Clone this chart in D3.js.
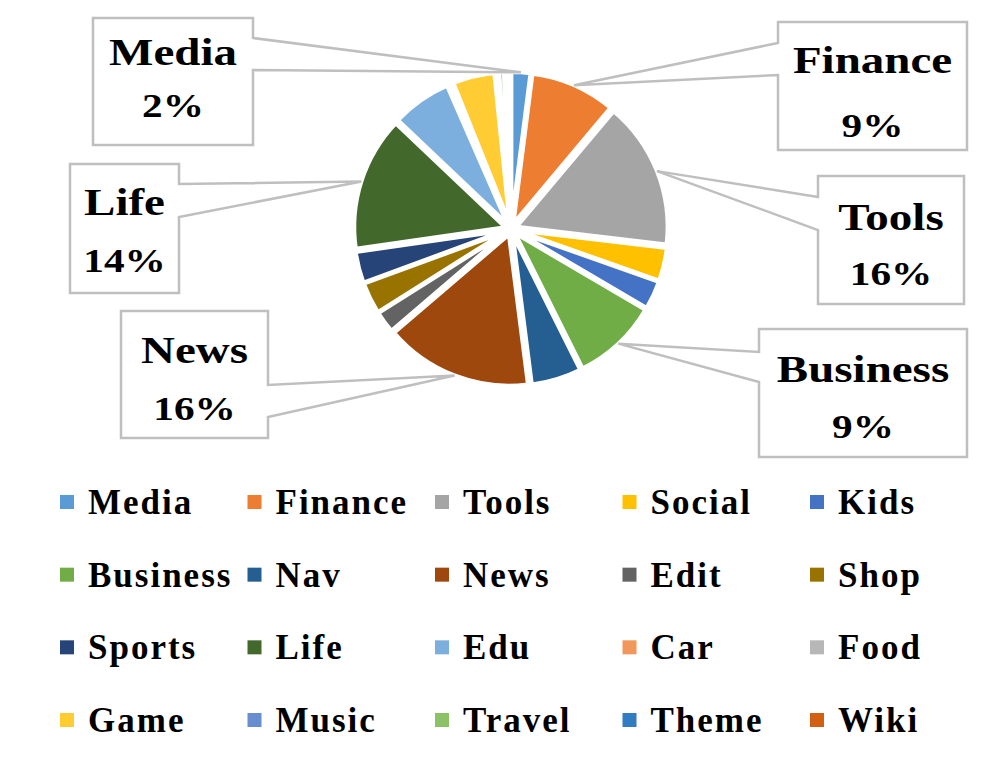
<!DOCTYPE html>
<html>
<head>
<meta charset="utf-8">
<script src="https://cdn.jsdelivr.net/npm/d3@7"></script>
<style>
  body { margin: 0; background: #fff; }
  text { font-family: "Liberation Serif", "Times New Roman", serif; font-weight: bold; fill: #000; }
</style>
</head>
<body>
<div id="chart"></div>
<script>
// categories and share of each (percent)
var categories = ["Media", "Finance", "Tools", "Social", "Kids",
                  "Business", "Nav", "News", "Edit", "Shop",
                  "Sports", "Life", "Edu", "Car", "Food",
                  "Game", "Music", "Travel", "Theme", "Wiki"];
var shares = [2.0, 9.0, 15.6, 3.5, 3.0,
              9.1, 5.3, 15.6, 2.3, 3.3,
              3.3, 14.2, 6.3, 0.3, 0.2,
              4.4, 0.4, 0.5, 0.4, 0.3];
var colors = ["#5B9BD5", "#ED7D31", "#A5A5A5", "#FFC000", "#4472C4",
              "#70AD47", "#255E91", "#9E480E", "#636363", "#997300",
              "#264478", "#43682B", "#7CAFDD", "#F1975A", "#B7B7B7",
              "#FFCD33", "#698ED0", "#8CC168", "#327DC2", "#D26012"];
// which slices get a callout
var labelled = ["Media", "Finance", "Tools", "Business", "Life", "News"];

var width = 997, height = 770;
var cx = 511, cy = 229, r = 151, explode = 6;

var svg = d3.select("#chart").append("svg")
  .attr("width", width)
  .attr("height", height);

var color = d3.scaleOrdinal().domain(categories).range(colors);
var total = d3.sum(shares);
var pct = d3.format(".0%");

var pie = d3.pie().sort(null).value(function(d){ return d.v; });
var arcs = pie(categories.map(function(c, i){ return {name: c, v: shares[i]}; }));
var arc = d3.arc().innerRadius(0).outerRadius(r);

function mid(a){ return (a.startAngle + a.endAngle) / 2; }

var g = svg.append("g").attr("transform", "translate(" + cx + "," + cy + ")");
g.selectAll("path").data(arcs).enter().append("path")
  .attr("d", arc)
  .attr("transform", function(d){
    var m = mid(d);
    return "translate(" + (Math.sin(m) * explode) + "," + (-Math.cos(m) * explode) + ")";
  })
  .attr("fill", function(d){ return color(d.data.name); })
  .attr("stroke", "#fff")
  .attr("stroke-width", 4)
  .attr("stroke-linejoin", "round");

// callout boxes (layout only)
var boxes = {
  Media:    {x: 93,  y: 18,  w: 160, h: 127, side: "right", n1: 20, n2: 52,  t1: 47, t2: 99},
  Finance:  {x: 778, y: 22,  w: 189, h: 128, side: "left",  n1: 21, n2: 53,  t1: 51, t2: 115},
  Tools:    {x: 818, y: 176, w: 146, h: 128, side: "left",  n1: 21, n2: 54,  t1: 54, t2: 109},
  Business: {x: 759, y: 329, w: 208, h: 128, side: "left",  n1: 23, n2: 53,  t1: 53, t2: 109},
  Life:     {x: 70,  y: 164, w: 109, h: 129, side: "right", n1: 20, n2: 53,  t1: 51, t2: 108},
  News:     {x: 121, y: 311, w: 147, h: 127, side: "right", n1: 74, n2: 106, t1: 52, t2: 109}
};

var tipR = r + explode;
arcs.filter(function(d){ return labelled.indexOf(d.data.name) >= 0; }).forEach(function(d){
  var b = boxes[d.data.name];
  var m = mid(d);
  var tx = cx + Math.sin(m) * tipR, ty = cy - Math.cos(m) * tipR;
  var p = d3.path();
  if (b.side === "left") {
    p.moveTo(b.x, b.y);
    p.lineTo(b.x + b.w, b.y);
    p.lineTo(b.x + b.w, b.y + b.h);
    p.lineTo(b.x, b.y + b.h);
    p.lineTo(b.x, b.y + b.n2);
    p.lineTo(tx, ty);
    p.lineTo(b.x, b.y + b.n1);
    p.closePath();
  } else {
    p.moveTo(b.x, b.y);
    p.lineTo(b.x + b.w, b.y);
    p.lineTo(b.x + b.w, b.y + b.n1);
    p.lineTo(tx, ty);
    p.lineTo(b.x + b.w, b.y + b.n2);
    p.lineTo(b.x + b.w, b.y + b.h);
    p.lineTo(b.x, b.y + b.h);
    p.closePath();
  }
  svg.append("path")
    .attr("d", p.toString())
    .attr("fill", "#fff")
    .attr("stroke", "#BFBFBF")
    .attr("stroke-width", 2.5)
    .attr("stroke-linejoin", "miter");
  // the original face is much wider than Liberation Serif, so stretch it
  svg.append("text")
    .attr("transform", "translate(" + (b.x + b.w / 2) + "," + (b.y + b.t1) + ") scale(1.27,1)")
    .attr("text-anchor", "middle")
    .style("font-size", "37px")
    .text(d.data.name);
  svg.append("text")
    .attr("transform", "translate(" + (b.x + b.w / 2) + "," + (b.y + b.t2) + ") scale(1.25,1)")
    .attr("text-anchor", "middle")
    .style("font-size", "33px")
    .text(pct(d.data.v / total));
});

// legend: 5 columns x 4 rows
var legX = d3.scalePoint().domain(d3.range(5)).range([60, 810]);
var legY = d3.scalePoint().domain(d3.range(4)).range([502, 720]);
var leg = svg.append("g").selectAll("g").data(categories).enter().append("g")
  .attr("transform", function(d, i){ return "translate(" + legX(i % 5) + "," + legY(Math.floor(i / 5)) + ")"; });
leg.append("rect")
  .attr("x", 0).attr("y", -7)
  .attr("width", 14).attr("height", 14)
  .attr("fill", function(d){ return color(d); });
leg.append("text")
  .attr("x", 28).attr("y", 12)
  .style("font-size", "35px")
  .style("letter-spacing", "2px")
  .text(function(d){ return d; });
</script>
</body>
</html>
